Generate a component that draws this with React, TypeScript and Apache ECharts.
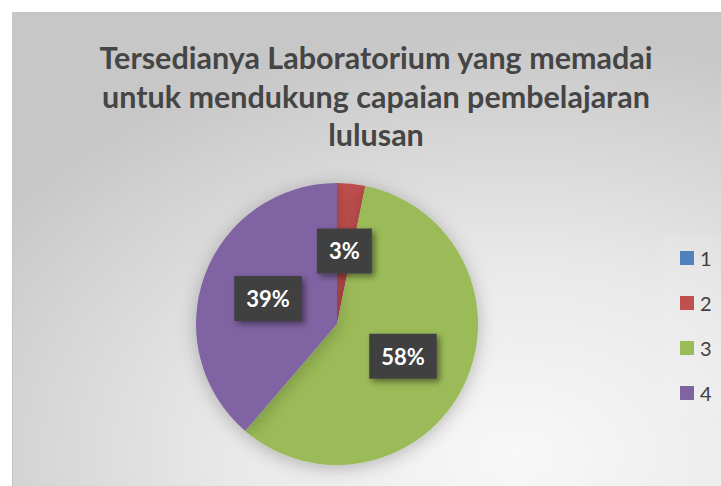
import React, { useEffect, useRef } from "react";
import * as echarts from "echarts";

const titleLines = ["Tersedianya Laboratorium yang memadai", "untuk mendukung capaian pembelajaran", "lulusan"];
const categories = ["1", "2", "3", "4"];
const values = [0, 1, 18, 12];
const colors = ["#4F81BD", "#C0504D", "#9BBB59", "#8064A2"];

export default function App() {
  const ref = useRef<HTMLDivElement>(null);
  useEffect(() => {
    const chart = echarts.init(ref.current!, null, { renderer: "svg" });
    const total = values.reduce((a, b) => a + b, 0);
    chart.setOption({
      animation: false,
      graphic: [
        {
          type: "rect",
          z: -10,
          silent: true,
          shape: { x: 12.5, y: 12.5, width: 720, height: 480 },
          style: {
            fill: {
              type: "radial",
              x: 0.7,
              y: 0.92,
              r: 0.88,
              colorStops: [
                { offset: 0, color: "#f8f8f8" },
                { offset: 0.45, color: "#e9e9e9" },
                { offset: 1, color: "#c7c7c7" },
              ],
            },
            stroke: "#c4c4c4",
            lineWidth: 1,
          },
        },
        {
          type: "rect",
          z: -5,
          silent: true,
          shape: { x: 662, y: 234, width: 60, height: 178 },
          style: { fill: "rgba(255,255,255,0.08)" },
        },
      ],
      title: {
        text: titleLines.join("\n"),
        left: 371,
        top: 33,
        textAlign: "center",
        textStyle: {
          fontFamily: "Lato",
          fontWeight: "bold",
          fontSize: 30.5,
          lineHeight: 38.5,
          color: "#454545",
        },
      },
      legend: {
        orient: "vertical",
        left: 675,
        top: 243,
        itemWidth: 14,
        itemHeight: 14,
        itemGap: 25,
        itemStyle: { borderWidth: 0 },
        icon: "rect",
        data: categories,
        textStyle: { fontFamily: "Lato", fontSize: 20, color: "#404040", padding: [0, 0, 0, 1] },
      },
      series: [
        {
          type: "pie",
          center: [337, 324],
          radius: [0, 141],
          startAngle: 90,
          clockwise: true,
          avoidLabelOverlap: false,
          itemStyle: { shadowBlur: 18, shadowColor: "rgba(0,0,0,0.25)", shadowOffsetY: 3 },
          label: {
            show: true,
            position: "inside",
            formatter: (p: any) => `${Math.round((p.value / total) * 100)}%`,
            fontFamily: "Lato",
            fontWeight: "bold",
            fontSize: 22,
            color: "#ffffff",
            backgroundColor: "#404040",
            padding: [12, 12, 11, 12],
            shadowBlur: 6,
            shadowColor: "rgba(0,0,0,0.45)",
            shadowOffsetX: 3,
            shadowOffsetY: 3,
          },
          labelLine: { show: false },
          emphasis: { disabled: true },
          data: categories.map((c, i) => ({
            name: c,
            value: values[i],
            itemStyle: { color: colors[i] },
            label: values[i] === 0 ? { show: false } : undefined,
          })),
        },
      ],
    });
    return () => chart.dispose();
  }, []);
  return (
    <div
      ref={ref}
      style={{ position: "absolute", left: 0, top: 0, width: 721, height: 486, background: "#ffffff" }}
    />
  );
}
